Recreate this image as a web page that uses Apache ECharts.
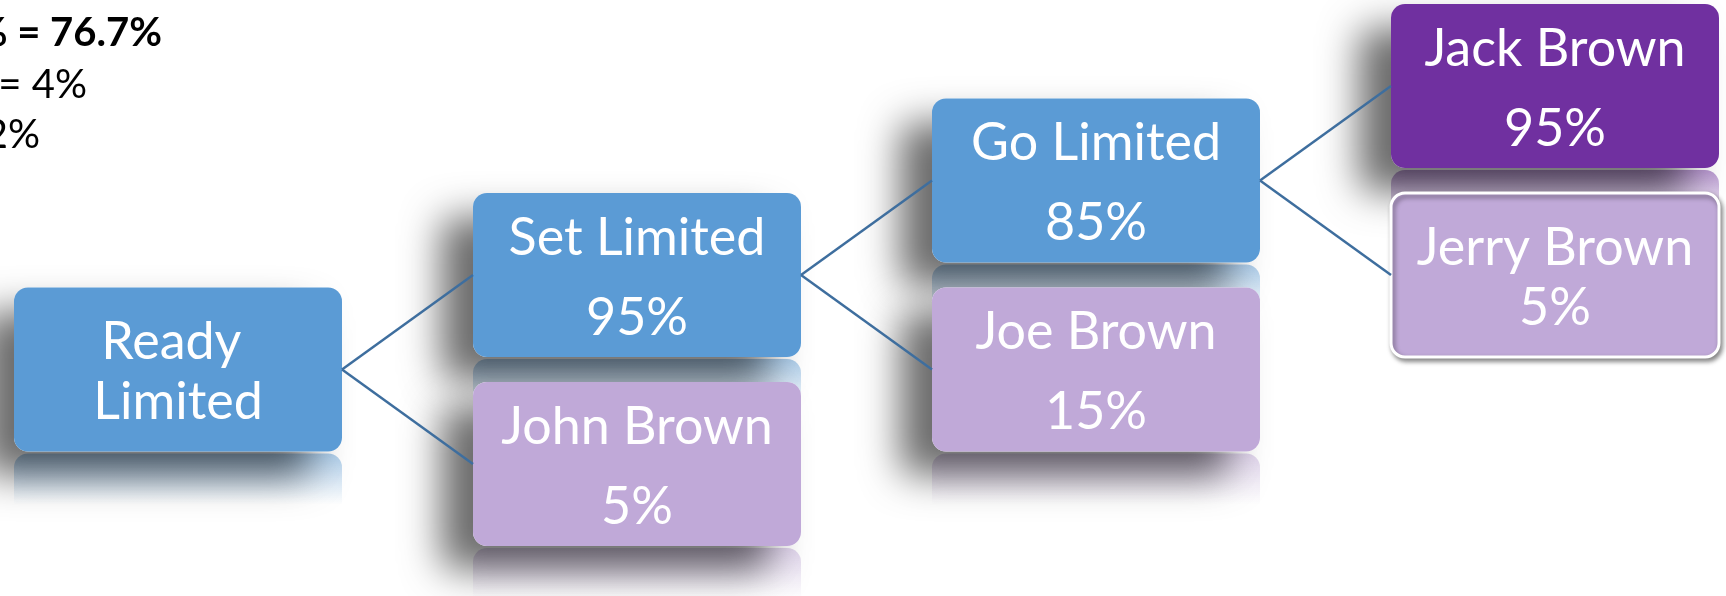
<!DOCTYPE html>
<html><head><meta charset="utf-8">
<script src="https://cdn.jsdelivr.net/npm/echarts@6/dist/echarts.min.js"></script>
<style>html,body{margin:0;padding:0;background:#fff}#c{width:1726px;height:596px}</style>
</head><body><div id="c"></div>
<script>
// ---------------- data ----------------
const nodeNames   = ['Ready Limited', 'Set Limited', 'John Brown', 'Go Limited', 'Joe Brown', 'Jack Brown', 'Jerry Brown'];
const nodeShares  = [null, 95, 5, 85, 15, 95, 5];          // percent
const nodeParents = [null, 0, 0, 1, 1, 3, 3];              // index of parent node
const noteLines   = ['% = 76.7%', '= 4%', '2%'];

// ---------------- styling ----------------
const BLUE = '#5B9BD5', LILAC = '#C0A9D8', PURPLE = '#7030A0';
const FILL = {
  'Ready Limited': BLUE, 'Set Limited': BLUE, 'Go Limited': BLUE,
  'John Brown': LILAC, 'Joe Brown': LILAC, 'Jerry Brown': LILAC,
  'Jack Brown': PURPLE
};
const PLAIN = ['Jerry Brown'];   // drawn with white outline, no reflection
const BOX_W = 328, BOX_H = 164, RADIUS = 14;
const FONT = 'Lato, "Open Sans", sans-serif';
const FS = 52;

function rgba(hex, a) {
  const n = parseInt(hex.slice(1), 16);
  return 'rgba(' + (n >> 16) + ',' + ((n >> 8) & 255) + ',' + (n & 255) + ',' + a + ')';
}

// ---------------- tree layout (level & branch row derived from structure) ----------------
const level = [], row = [];
nodeParents.forEach((p, i) => {
  if (p === null) { level[i] = 0; row[i] = 0; return; }
  const sibs = nodeParents.map((q, j) => q === p ? j : -1).filter(j => j >= 0);
  level[i] = level[p] + 1;
  row[i] = row[p] + (sibs.indexOf(i) === 0 ? -1 : 1);
});
const nodeData = nodeNames.map((n, i) => [level[i], row[i]]);
const edgeData = [];
nodeParents.forEach((p, i) => { if (p !== null) edgeData.push([level[p], row[p], level[i], row[i]]); });

function renderNode(params, api) {
  const i = params.dataIndex;
  const c = api.coord([api.value(0), api.value(1)]);
  const x = c[0] - BOX_W / 2, y = c[1] - BOX_H / 2;
  const name = nodeNames[i];
  const fill = FILL[name];
  const plain = PLAIN.indexOf(name) >= 0;
  const ch = [];
  if (!plain) {
    ch.push({ type: 'rect', shape: { x: x, y: y + BOX_H + 2, width: BOX_W, height: 60, r: [RADIUS, RADIUS, 0, 0] },
      style: { fill: new echarts.graphic.LinearGradient(0, 0, 0, 1, [
        { offset: 0, color: rgba(fill, 0.5) }, { offset: 0.85, color: rgba(fill, 0) }, { offset: 1, color: rgba(fill, 0) }]) } });
    ch.push({ type: 'rect', shape: { x: x, y: y, width: BOX_W, height: BOX_H, r: RADIUS },
      style: { fill: '#fff', shadowBlur: 38, shadowColor: 'rgba(0,0,0,0.58)', shadowOffsetX: -32, shadowOffsetY: 24 } });
    ch.push({ type: 'rect', shape: { x: x, y: y, width: BOX_W, height: BOX_H, r: RADIUS }, style: { fill: fill } });
  } else {
    ch.push({ type: 'rect', shape: { x: x, y: y, width: BOX_W, height: BOX_H, r: RADIUS },
      style: { fill: fill, stroke: '#fff', lineWidth: 3, shadowBlur: 5, shadowColor: 'rgba(0,0,0,0.45)', shadowOffsetX: 2, shadowOffsetY: 3 } });
  }
  const share = nodeShares[i];
  const tight = plain || share === null;
  ch.push({ type: 'text', x: c[0], y: c[1] + 3,
    style: { text: name + (share !== null ? '\n' + share + '%' : ''), fill: '#fff', font: FS + 'px ' + FONT,
      align: 'center', verticalAlign: 'middle', lineHeight: tight ? 60 : 80, width: 290, overflow: 'break' } });
  return { type: 'group', children: ch };
}

function renderEdge(params, api) {
  const a = api.coord([api.value(0), api.value(1)]);
  const b = api.coord([api.value(2), api.value(3)]);
  return { type: 'line', shape: { x1: a[0] + BOX_W / 2, y1: a[1], x2: b[0] - BOX_W / 2, y2: b[1] },
    style: { stroke: '#3E6E9E', lineWidth: 2.5 } };
}

const chart = echarts.init(document.getElementById('c'), null, { renderer: 'canvas' });
chart.setOption({
  animation: false,
  grid: { left: 178, right: 171, top: 86, bottom: 132 },
  xAxis: { type: 'value', min: 0, max: 3, show: false },
  yAxis: { type: 'value', min: -3, max: 1, inverse: true, show: false },
  graphic: noteLines.map((t, k) => ({
    type: 'text', x: [162, 87, 40][k], y: [53, 105, 155][k],
    style: { text: t, fill: '#000', align: 'right', verticalAlign: 'bottom',
      font: (k === 0 ? 'bold ' : '') + '40px ' + FONT }
  })),
  series: [
    { type: 'custom', coordinateSystem: 'cartesian2d', data: nodeData, renderItem: renderNode, z: 2, clip: false },
    { type: 'custom', coordinateSystem: 'cartesian2d', data: edgeData, renderItem: renderEdge, z: 3, clip: false }
  ]
});
</script>
</body></html>
